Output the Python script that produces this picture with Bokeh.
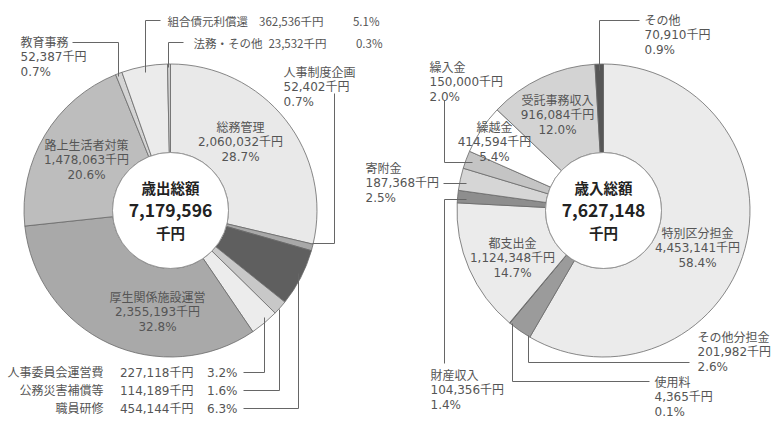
import numpy as np
from bokeh.plotting import figure
from bokeh.models import ColumnDataSource, Range1d
from bokeh.core.properties import value
from bokeh.embed import file_html
from bokeh.resources import INLINE

W, H = 784, 421
FONT_CJK = value("Noto Sans CJK JP")
FONT = value("'DejaVu Sans', 'Noto Sans CJK JP'")

# ---------------- data ----------------
exp_names = ["総務管理", "人事制度企画", "職員研修", "公務災害補償等", "人事委員会運営費",
             "厚生関係施設運営", "路上生活者対策", "教育事務", "組合債元利償還", "法務・その他"]
exp_values = [2060032, 52402, 454144, 114189, 227118, 2355193, 1478063, 52387, 362536, 23532]
exp_pcts = ["28.7", "0.7", "6.3", "1.6", "3.2", "32.8", "20.6", "0.7", "5.1", "0.3"]
exp_colors = ["#e9e9e9", "#a8a8a8", "#5f5f5f", "#c8c8c8", "#ececec",
              "#a9a9a9", "#bdbdbd", "#d4d4d4", "#ebebeb", "#cfcfcf"]
exp_title = "歳出総額"

rev_names = ["特別区分担金", "その他分担金", "使用料", "都支出金", "財産収入",
             "寄附金", "繰入金", "繰越金", "受託事務収入", "その他"]
rev_values = [4453141, 201982, 4365, 1124348, 104356, 187368, 150000, 414594, 916084, 70910]
rev_pcts = ["58.4", "2.6", "0.1", "14.7", "1.4", "2.5", "2.0", "5.4", "12.0", "0.9"]
rev_colors = ["#ebebeb", "#9b9b9b", "#888888", "#ebebeb", "#8e8e8e",
              "#d6d6d6", "#c4c4c4", "#ffffff", "#d3d3d3", "#565656"]
rev_title = "歳入総額"

unit = "千円"

# ---------------- layout (pixel coords, y downward) ----------------
exp_center = (170, 210)
rev_center = (603, 210)
R_OUT, R_IN = 146.5, 58

# stacked labels: name -> (x, y_first_line, align)
exp_stack = {
    "総務管理": (240, 127, "center"),
    "路上生活者対策": (86, 145, "center"),
    "厚生関係施設運営": (157, 297, "center"),
    "教育事務": (20, 42, "left"),
    "人事制度企画": (283, 72, "left"),
}
# row labels: name -> (name_x, name_align, value_right_x, pct_right_x, y, font, size)
exp_rows = {
    "組合債元利償還": (167, "left", 323, 379, 20, FONT_CJK, "11.5px"),
    "法務・その他": (193, "left", 326, 382, 42, FONT_CJK, "11.5px"),
    "人事委員会運営費": (103, "right", 193, 237, 372, FONT, "12px"),
    "公務災害補償等": (103, "right", 193, 237, 390, FONT, "12px"),
    "職員研修": (103, "right", 193, 237, 408, FONT, "12px"),
}
exp_leaders = {
    "教育事務": [(72, 42), (118, 42), (118, 76)],
    "組合債元利償還": [(160, 20), (145, 20), (145, 72)],
    "法務・その他": [(183, 42), (168, 42), (168, 67)],
    "人事制度企画": [(334, 93), (334, 243), (312, 243)],
    "職員研修": [(243, 408), (298, 408), (298, 273)],
    "公務災害補償等": [(243, 390), (279, 390), (279, 309)],
    "人事委員会運営費": [(243, 372), (264, 372), (264, 317)],
}

rev_stack = {
    "その他": (644, 20, "left"),
    "繰入金": (429, 67, "left"),
    "寄附金": (365, 168, "left"),
    "財産収入": (430, 375, "left"),
    "受託事務収入": (557, 100, "center"),
    "繰越金": (494, 127, "center"),
    "都支出金": (512, 243, "center"),
    "特別区分担金": (697, 233, "center"),
    "その他分担金": (697, 337, "left"),
    "使用料": (654, 382, "left"),
}
rev_leaders = {
    "その他": [(639, 20), (599, 20), (599, 70)],
    "繰入金": [(444, 100), (444, 162), (472, 162)],
    "寄附金": [(443, 183), (466, 183)],
    "財産収入": [(444, 363), (444, 199), (466, 199)],
    "その他分担金": [(689, 362), (528, 362), (528, 335)],
    "使用料": [(649, 381), (512, 381), (512, 323)],
}

LINE_H = 14.5
TXT_COLOR = "#555555"
TXT_SIZE = "12px"

p = figure(width=W, height=H, x_range=Range1d(0, W), y_range=Range1d(0, H),
           output_backend="svg", toolbar_location=None, min_border=0)
p.axis.visible = False
p.grid.visible = False
p.outline_line_color = None
p.background_fill_color = "white"
p.border_fill_color = "white"


def Y(y):
    return H - y


def donut(center, values, colors):
    v = np.array(values, dtype=float)
    frac = v / v.sum()
    cum_end = np.cumsum(frac)
    cum_start = cum_end - frac
    src = ColumnDataSource(dict(
        start=np.pi / 2 - 2 * np.pi * cum_end,
        end=np.pi / 2 - 2 * np.pi * cum_start,
        color=colors,
    ))
    p.annular_wedge(x=center[0], y=Y(center[1]), inner_radius=R_IN, outer_radius=R_OUT,
                    start_angle="start", end_angle="end", direction="anticlock",
                    fill_color="color", line_color="#6a6a6a", line_width=0.8, source=src)
    p.circle(x=center[0], y=Y(center[1]), radius=R_IN, fill_color="white",
             line_color="#8a8a8a", line_width=0.8)


def center_text(center, title, total):
    cx, cy = center
    p.text(x=[cx], y=[Y(cy - 23)], text=[title], text_align="center", text_baseline="middle",
           text_font=FONT_CJK, text_font_size="14.5px", text_font_style="bold", text_color="#222222")
    p.text(x=[cx], y=[Y(cy)], text=[f"{total:,}"], text_align="center", text_baseline="middle",
           text_font=FONT_CJK, text_font_size="17.5px", text_font_style="bold", text_color="#222222")
    p.text(x=[cx], y=[Y(cy + 22)], text=[unit], text_align="center", text_baseline="middle",
           text_font=FONT_CJK, text_font_size="14.5px", text_font_style="bold", text_color="#222222")


def stacked_labels(names, values, pcts, layout):
    for n, v, pc in zip(names, values, pcts):
        if n not in layout:
            continue
        x, y, al = layout[n]
        lines = [n, f"{v:,}{unit}", f"{pc}%"]
        p.text(x=[x] * 3, y=[Y(y + i * LINE_H) for i in range(3)], text=lines,
               text_align=al, text_baseline="middle", text_font=FONT,
               text_font_size=TXT_SIZE, text_color=TXT_COLOR)


def row_labels(names, values, pcts, layout):
    for n, v, pc in zip(names, values, pcts):
        if n not in layout:
            continue
        nx, nal, vx, px_, y, fnt, sz = layout[n]
        p.text(x=[nx], y=[Y(y)], text=[n], text_align=nal, text_baseline="middle",
               text_font=fnt, text_font_size=sz, text_color=TXT_COLOR)
        p.text(x=[vx, px_], y=[Y(y), Y(y)], text=[f"{v:,}{unit}", f"{pc}%"],
               text_align="right", text_baseline="middle",
               text_font=fnt, text_font_size=sz, text_color=TXT_COLOR)


def leaders(d):
    xs = [[pt[0] for pt in pts] for pts in d.values()]
    ys = [[Y(pt[1]) for pt in pts] for pts in d.values()]
    p.multi_line(xs=xs, ys=ys, line_color="#666666", line_width=1)


donut(exp_center, exp_values, exp_colors)
donut(rev_center, rev_values, rev_colors)
leaders(exp_leaders)
leaders(rev_leaders)
center_text(exp_center, exp_title, sum(exp_values))
center_text(rev_center, rev_title, sum(rev_values))
stacked_labels(exp_names, exp_values, exp_pcts, exp_stack)
row_labels(exp_names, exp_values, exp_pcts, exp_rows)
stacked_labels(rev_names, rev_values, rev_pcts, rev_stack)

open("out.html", "w").write(file_html(p, INLINE))
